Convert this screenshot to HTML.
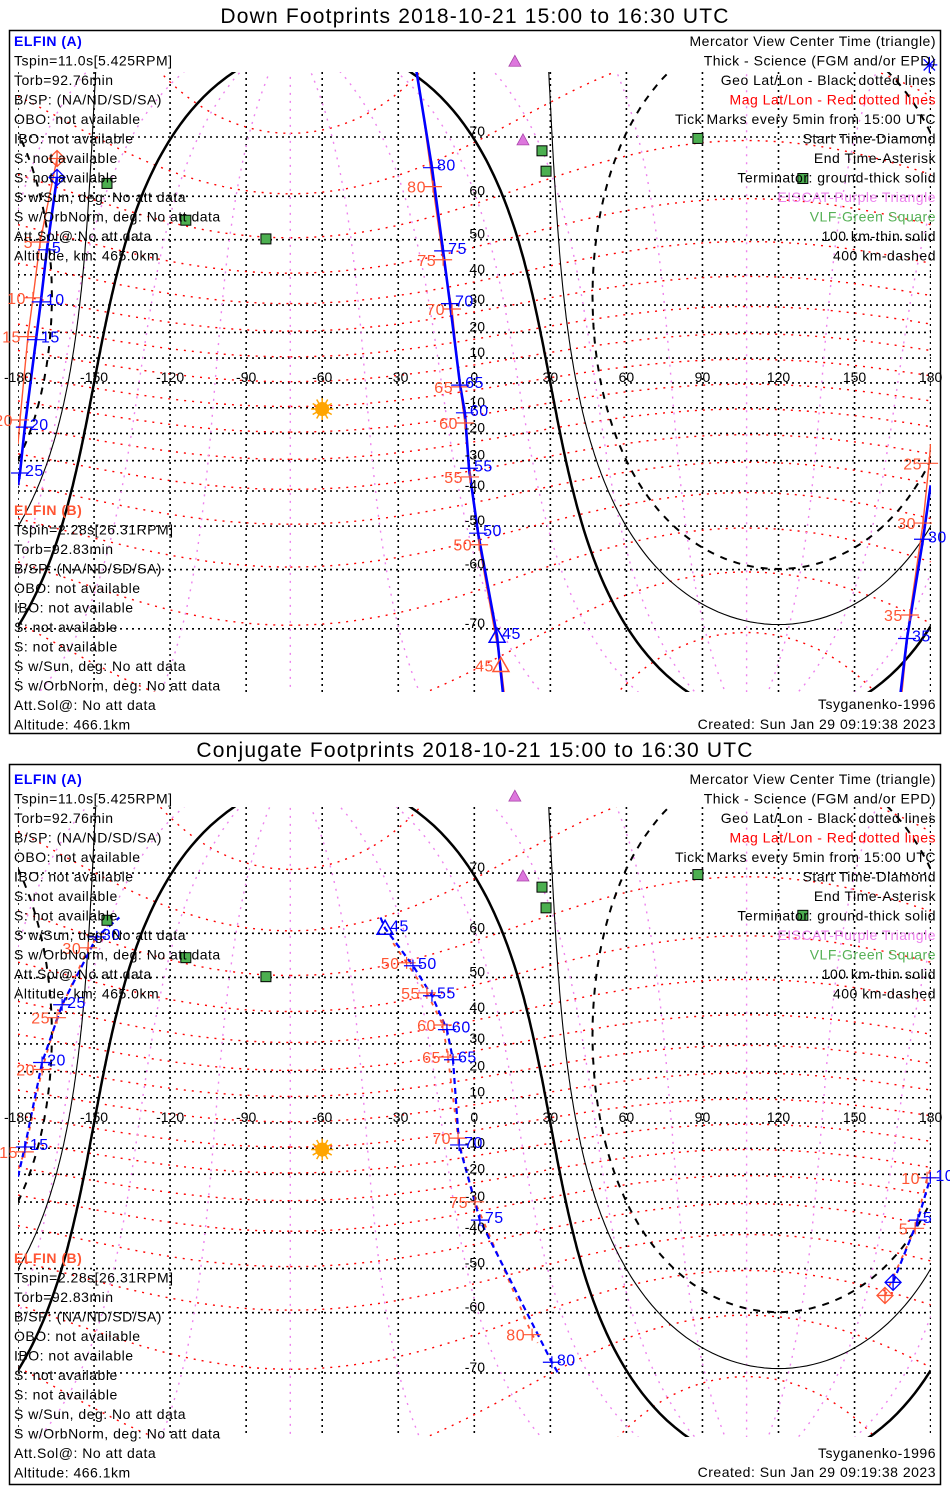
<!DOCTYPE html>
<html><head><meta charset="utf-8">
<style>
html,body{margin:0;padding:0;background:#fff;overflow:hidden;width:950px;height:1500px;}
svg{display:block;font-family:"Liberation Sans",sans-serif;}
</style></head>
<body>
<svg id="chart" width="950" height="1500" viewBox="0 0 950 1500" xmlns="http://www.w3.org/2000/svg">
<defs>
<clipPath id="clipTop"><rect x="18" y="72" width="913" height="620"/></clipPath>
<clipPath id="clipBot"><rect x="18" y="807" width="913" height="630"/></clipPath>
</defs>
<rect x="0" y="0" width="950" height="1500" fill="#fff"/>
<text x="475" y="23" font-size="21" letter-spacing="1.2" text-anchor="middle">Down Footprints 2018-10-21 15:00 to 16:30 UTC</text>
<rect x="9.5" y="30.5" width="931" height="703" fill="none" stroke="#000" stroke-width="1.5"/>
<text x="475" y="757" font-size="21" letter-spacing="1.2" text-anchor="middle">Conjugate Footprints 2018-10-21 15:00 to 16:30 UTC</text>
<rect x="9.5" y="764.5" width="931" height="720" fill="none" stroke="#000" stroke-width="1.5"/>
<g id="topMap" clip-path="url(#clipTop)"></g>
<g id="botMap" clip-path="url(#clipBot)"></g>
<g id="overlay"></g>
</svg>
<script>
// ---- data ----
const lonTicks = [-180,-150,-120,-90,-60,-30,0,30,60,90,120,150,180];
const latTicks = [70,60,50,40,30,20,10,0,-10,-20,-30,-40,-50,-60,-70];
const subsolarLon = -60, subsolarLat = -10.5;
const terminatorDist = [90, 100.1, 109.6];
const magPoleLat = 80.5, magPoleLon = -72.6;
const magLats = [-80,-70,-60,-50,-40,-30,-20,-10,0,10,20,30,40,50,60,70,80];
const magLons = [0,30,60,90,120,150,180,210,240,270,300,330];
const eiscatLon = [16.0, 19.2], eiscatLat = [78.2, 69.6];
const vlfLon = [-144.9,-113.8,-82.2,26.7,28.3,88.2,129.6];
const vlfLat = [62.5,54.8,50.2,68.0,64.7,69.8,63.4];
// Down footprints
const downAMin = [0,5,10,15,20,25,30,35,38,42,45,50,55,60,65,70,75,80,84];
const downALon = [-164.6,-168.6,-171.0,-172.9,-177.3,-179.2,177.0,170.7,165,14,9.0,1.5,-2.1,-3.7,-5.6,-9.6,-12.3,-16.7,-27];
const downALat = [63.6,47.3,31.1,17.2,-17.6,-34.2,-53.3,-71.3,-82,-82,-71.0,-51.8,-32.6,-12.0,-0.9,30.5,47.0,65.3,82];
const downBMin = [0,5,10,15,20,25,30,35,38,42,45,50,55,60,65,70,75,80,84];
const downBLon = [-164.6,-171.3,-174.1,-176.1,-179.2,179.4,177.0,171.8,166,15,10.5,1.9,-1.7,-3.7,-5.6,-8.8,-12.3,-16.3,-26];
const downBLat = [66.8,49.4,32.5,18.4,-14.8,-30.9,-49.2,-68.0,-82,-82,-74.5,-54.6,-35.5,-16.0,-1.6,28.6,44.5,61.9,82];
// Conjugate footprints (two pieces each)
const conjA1Min = [0,5,10,15,20,25,30,32];
const conjA1Lon = [165.2,175.0,179.9,-177.3,-170.5,-162.6,-148.9,-140];
const conjA1Lat = [-53.4,-36.0,-21.3,-9.5,23.4,42.5,59.3,63];
const conjA2Min = [44,45,50,55,60,65,70,75,80,81];
const conjA2Lon = [-37,-35.2,-24.2,-16.7,-10.8,-8.4,-6.0,2.2,30.6,33];
const conjA2Lat = [63,61.0,52.9,45.1,34.8,24.4,-8.7,-36.0,-68.5,-70];
const conjB1Min = [0,5,10,15,20,25,30,32];
const conjB1Lon = [162.0,173.9,178.6,-177.3,-170.5,-164.6,-152.3,-145];
const conjB1Lat = [-56.4,-38.6,-21.3,-11.4,20.8,38.6,57.0,61];
const conjB2Min = [47,50,55,60,65,70,75,80,81];
const conjB2Lon = [-32,-26.7,-18.7,-12.4,-10.4,-6.4,0.3,22.8,25];
const conjB2Lat = [58,53.6,45.9,36.3,25.4,-6.0,-29.9,-64.1,-65.5];
const endALon = 179.5, endALat = 77.9;

const NS = "http://www.w3.org/2000/svg";
const R = Math.PI/180;
const panels = {
  top: {y0:382.9, k:141.7, g:document.getElementById('topMap'), yTop:72, yBot:692},
  bot: {y0:1123, k:144.0, g:document.getElementById('botMap'), yTop:807, yBot:1437}
};
const overlay = document.getElementById('overlay');
function xOf(lon){ return 474.3 + lon*2.535; }
function merc(lat){ lat=Math.max(-89,Math.min(89,lat)); return Math.log(Math.tan((45+lat/2)*R)); }
function yOf(p,lat){ return p.y0 - p.k*merc(lat); }
function mk(tag, attrs, parent){
  const e=document.createElementNS(NS,tag);
  for(const a in attrs) e.setAttribute(a,attrs[a]);
  (parent||overlay).appendChild(e); return e;
}
function splitWrap(lons,lats){
  const lines=[]; let cur=[[lons[0],lats[0]]];
  for(let i=1;i<lons.length;i++){
    const l1=lons[i-1], l2=lons[i], a1=lats[i-1], a2=lats[i];
    if(Math.abs(l2-l1)>180){
      const edge = l1>0?180:-180;
      const l2u = l1>0? l2+360 : l2-360;
      const t=(edge-l1)/(l2u-l1);
      const lc=a1+t*(a2-a1);
      cur.push([edge,lc]); lines.push(cur); cur=[[-edge,lc]];
    }
    cur.push([l2,a2]);
  }
  lines.push(cur); return lines;
}
function drawPath(p, lons, lats, style, name){
  splitWrap(lons,lats).forEach(seg=>{
    if(seg.length<2) return;
    const d = seg.map((q,i)=>(i?'L':'M')+xOf(q[0]).toFixed(1)+' '+yOf(p,q[1]).toFixed(1)).join(' ');
    const e=mk('path',Object.assign({d:d,fill:'none'},style),p.g);
    
    
  });
}
function circlePts(lat0,lon0,dist){
  const lons=[],lats=[];
  for(let az=0;az<=360;az+=1){
    const d=dist*R, f1=lat0*R, a=az*R;
    const s=Math.sin(f1)*Math.cos(d)+Math.cos(f1)*Math.sin(d)*Math.cos(a);
    const f2=Math.asin(s);
    let l=lon0+Math.atan2(Math.sin(a)*Math.sin(d)*Math.cos(f1), Math.cos(d)-Math.sin(f1)*s)/R;
    l=((l+540)%360)-180;
    lons.push(l); lats.push(f2/R);
  }
  return [lons,lats];
}
function magToGeo(mlat,mlon){
  const B=mlat*R,L=mlon*R;
  let x=Math.cos(B)*Math.cos(L), y=Math.cos(B)*Math.sin(L), z=Math.sin(B);
  const th=(90-magPoleLat)*R;
  const x1=x*Math.cos(th)+z*Math.sin(th), z1=-x*Math.sin(th)+z*Math.cos(th);
  const lp=magPoleLon*R;
  const x2=x1*Math.cos(lp)-y*Math.sin(lp), y2=x1*Math.sin(lp)+y*Math.cos(lp);
  return [Math.atan2(y2,x2)/R, Math.asin(Math.max(-1,Math.min(1,z1)))/R];
}

function drawPanel(key){
  const p=panels[key];
  latTicks.forEach(lat=>{
    const y=yOf(p,lat);
    const e=mk('line',{x1:18,x2:931,y1:y,y2:y,stroke:'#000','stroke-width':1.6,'stroke-dasharray':'2,4'},p.g);
    
    
  });
  lonTicks.forEach(lon=>{
    const x=xOf(lon);
    const e=mk('line',{x1:x,x2:x,y1:p.yTop,y2:p.yBot,stroke:'#000','stroke-width':1.6,'stroke-dasharray':'2,4'},p.g);
    
    
  });
  magLats.forEach(ml=>{
    const lo=[],la=[];
    for(let m=0;m<=360;m+=2){ const g=magToGeo(ml,m); lo.push(g[0]); la.push(g[1]); }
    drawPath(p,lo,la,{stroke:'#ff0000','stroke-width':1.4,'stroke-dasharray':'2,6'},'mag-lat-line');
  });
  magLons.forEach(mo=>{
    const lo=[],la=[];
    for(let m=-88;m<=88;m+=2){ const g=magToGeo(m,mo); lo.push(g[0]); la.push(g[1]); }
    drawPath(p,lo,la,{stroke:'#ee82ee','stroke-width':1.4,'stroke-dasharray':'2,6'},'mag-lon-line');
  });
  const styles=[{stroke:'#000','stroke-width':2.5},{stroke:'#000','stroke-width':1.1},{stroke:'#000','stroke-width':2,'stroke-dasharray':'7,7'}];
  const names=['terminator-ground','terminator-100km','terminator-400km'];
  terminatorDist.forEach((d,i)=>{
    const c=circlePts(subsolarLat,subsolarLon,d);
    drawPath(p,c[0],c[1],styles[i],names[i]);
  });
  const sx=xOf(subsolarLon), sy=yOf(p,subsolarLat);
  for(let a=0;a<360;a+=30){
    const e=mk('line',{x1:sx,y1:sy,x2:sx+11*Math.cos(a*R),y2:sy+11*Math.sin(a*R),stroke:'#ffa500','stroke-width':1.5});
    
    
  }
  const sun=mk('circle',{cx:sx,cy:sy,r:7,fill:'#ffa500'});
  
  
  lonTicks.forEach(lon=>{
    const t=mk('text',{x:xOf(lon),y:p.y0-1,'font-size':14,'text-anchor':'middle'});
    t.textContent=String(lon);
    
    
  });
  latTicks.forEach(lat=>{
    if(lat===0) return;
    const t=mk('text',{x:485,y:yOf(p,lat)-1,'font-size':14,'text-anchor':'end'});
    t.textContent=String(lat);
    
    
  });
  eiscatLon.forEach((lo,i)=>{
    const x=xOf(lo), y=yOf(p,eiscatLat[i]);
    const e=mk('path',{d:`M${x} ${y-6} L${x+6} ${y+5} L${x-6} ${y+5} Z`,fill:'#dd77dd',stroke:'#aa44aa','stroke-width':0.8});
    
    
  });
  vlfLon.forEach((lo,i)=>{
    const x=xOf(lo), y=yOf(p,vlfLat[i]);
    const e=mk('rect',{x:x-5,y:y-5,width:10,height:10,fill:'#4caf50',stroke:'#000','stroke-width':1});
    
    
  });
}

function drawTrack(key,mins,lons,lats,color,isA,dashed){
  const p=panels[key];
  const st = dashed
    ? {stroke:color,'stroke-width':isA?2.2:1.8,'stroke-dasharray':isA?'6,4':'4,6'}
    : {stroke:color,'stroke-width':isA?2.6:1.4};
  drawPath(p,lons,lats,st,isA?'track-elfin-a':'track-elfin-b');
  mins.forEach((m,i)=>{
    const x=xOf(lons[i]), y=yOf(p,lats[i]);
    if(y<p.yTop-2||y>p.yBot+2) return;
    if(m===0){
      const e=mk('path',{d:`M${x} ${y-8} L${x+8} ${y} L${x} ${y+8} L${x-8} ${y} Z M${x} ${y-8} L${x} ${y+8} M${x-8} ${y} L${x+8} ${y}`,fill:'none',stroke:color,'stroke-width':1.3});
      
      
      return;
    }
    if(m%5!==0) return;
    if(m===45){
      const e=mk('path',{d:`M${x} ${y-8} L${x+8} ${y+6} L${x-8} ${y+6} Z`,fill:'none',stroke:color,'stroke-width':1.5});
      
      
    } else {
      const e=mk('path',{d:`M${x-9} ${y} L${x+9} ${y} M${x} ${y-6} L${x} ${y+6}`,stroke:color,'stroke-width':1.2});
      
      
    }
    const t=mk('text',isA?{x:x+5,y:y+3,'font-size':16,'letter-spacing':0.5,fill:color}:{x:x-7,y:y+6,'font-size':16,'letter-spacing':0.5,fill:color,'text-anchor':'end'});
    t.textContent=String(m);
    
    
  });
}

drawPanel('top'); drawPanel('bot');
const ORANGE='#ff5533', BLUE='#0000ff';
drawTrack('top',downBMin,downBLon,downBLat,ORANGE,false,false);
drawTrack('top',downAMin,downALon,downALat,BLUE,true,false);
drawTrack('bot',conjB1Min,conjB1Lon,conjB1Lat,ORANGE,false,true);
drawTrack('bot',conjB2Min,conjB2Lon,conjB2Lat,ORANGE,false,true);
drawTrack('bot',conjA1Min,conjA1Lon,conjA1Lat,BLUE,true,true);
drawTrack('bot',conjA2Min,conjA2Lon,conjA2Lat,BLUE,true,true);
(function(){
  const x=xOf(endALon), y=yOf(panels.top,endALat);
  let d='';
  for(let a=0;a<180;a+=45){ d+=`M${x-8*Math.cos(a*R)} ${y-8*Math.sin(a*R)} L${x+8*Math.cos(a*R)} ${y+8*Math.sin(a*R)} `; }
  const e=mk('path',{d:d,stroke:BLUE,'stroke-width':1.3});
  
  
})();

const leftA=["ELFIN (A)","Tspin=11.0s[5.425RPM]","Torb=92.76min","B/SP: (NA/ND/SD/SA)","OBO: not available","IBO: not available","S: not available","S: not available","S w/Sun, deg: No att data","S w/OrbNorm, deg: No att data","Att.Sol@:No att data","Altitude, km: 465.0km"];
const leftB=["ELFIN (B)","Tspin=2.28s[26.31RPM]","Torb=92.83min","B/SP: (NA/ND/SD/SA)","OBO: not available","IBO: not available","S: not available","S: not available","S w/Sun, deg: No att data","S w/OrbNorm, deg: No att data","Att.Sol@: No att data","Altitude: 466.1km"];
const right=["Mercator View Center Time (triangle)","Thick - Science (FGM and/or EPD)","Geo Lat/Lon - Black dotted lines","Mag Lat/Lon - Red dotted lines","Tick Marks every 5min from 15:00 UTC","Start Time-Diamond","End Time-Asterisk","Terminator: ground-thick solid","EISCAT-Purple Triangle","VLF-Green Square","100 km-thin solid","400 km-dashed"];
const rightCol=['#000','#000','#000','#ff0000','#000','#000','#000','#000','#ee82ee','#55b055','#000','#000'];
function block(lines,x,y0,anchor,colors,name,first){
  lines.forEach((s,i)=>{
    const t=mk('text',{x:x,y:y0+i*19.5,'font-size':14,'letter-spacing':0.5,'text-anchor':anchor,fill:colors?colors[i]:(i===0&&first?first:'#000')});
    if(i===0&&first) t.setAttribute('font-weight','bold');
    t.textContent=s;
    
    
  });
}
[0,1].forEach(k=>{
  const aY=k?784:46, bY=k?1263:515;
  block(leftA,14,aY,'start',null,'elfin-a-info',BLUE);
  block(leftB,14,bY,'start',null,'elfin-b-info',ORANGE);
  block(right,936,aY,'end',rightCol,'legend-entry',null);
  const t1=mk('text',{x:936,y:k?1458:709,'font-size':14,'letter-spacing':0.5,'text-anchor':'end'}); t1.textContent='Tsyganenko-1996';
  
  
  const t2=mk('text',{x:936,y:k?1477:729,'font-size':14,'letter-spacing':0.5,'text-anchor':'end'}); t2.textContent='Created: Sun Jan 29 09:19:38 2023';
  
  
});
</script>
</body></html>
